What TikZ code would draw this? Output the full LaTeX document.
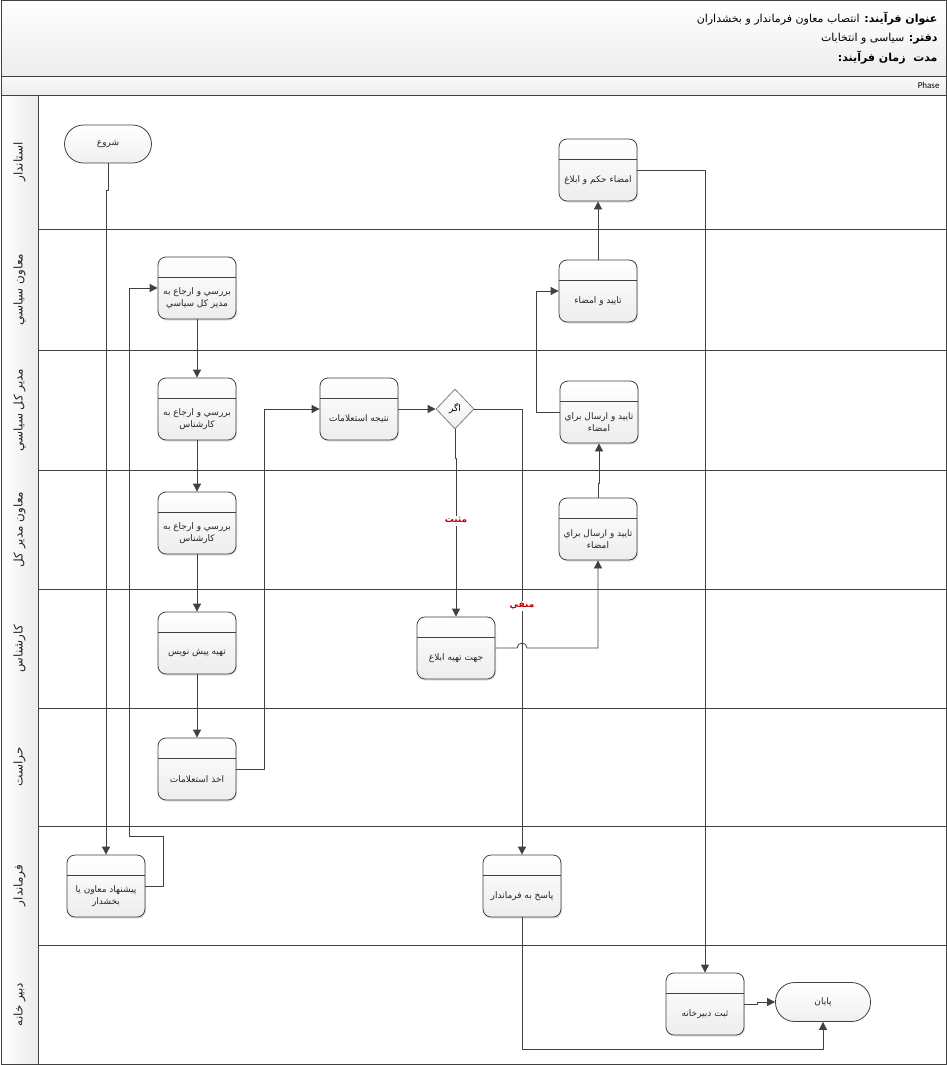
\documentclass[tikz,border=0pt]{standalone}
\usepackage{fontspec}
\setmainfont{Carlito}
\newfontfamily\arabicfont[Script=Arabic]{DejaVu Sans}
\TeXXeTstate=1
\usetikzlibrary{arrows.meta,shapes.geometric,shadows}
\definecolor{linegray}{HTML}{404040}
\definecolor{flagred}{HTML}{C00000}
\begin{document}
\begin{tikzpicture}[x=1pt,y=-1pt,>={Triangle[length=8pt,width=8pt]},line join=round,
	task/.style={draw=linegray,line width=0.8pt,rounded corners=8pt,minimum width=78pt,minimum height=62pt,
		top color=white,bottom color=gray!14,drop shadow={shadow xshift=1pt,shadow yshift=-1.5pt,opacity=0.25},
		path picture={\draw[linegray,line width=0.8pt] ([yshift=-20pt]path picture bounding box.north west) -- ([yshift=-20pt]path picture bounding box.north east);}},
	tasktext/.style={yshift=-10pt,align=center,font=\arabicfont\fontsize{9}{12}\selectfont,text=black!85},
	terminal/.style={draw=linegray,line width=0.8pt,rounded corners=19pt,minimum width=87pt,minimum height=38pt,
		top color=white,bottom color=gray!12,font=\arabicfont\fontsize{9}{11}\selectfont,text=black!85},
	decision/.style={diamond,draw=gray,line width=0.8pt,minimum width=38pt,minimum height=40pt,inner sep=0pt,
		top color=white,bottom color=gray!12,font=\arabicfont\fontsize{9}{11}\selectfont},
	flow/.style={draw=linegray,line width=0.8pt,->},
	flag/.style={fill=white,inner sep=1pt,text=flagred,font=\arabicfont\bfseries\fontsize{9}{11}\selectfont},
	lanename/.style={rotate=90,font=\arabicfont\fontsize{12}{14}\selectfont,text=black!85},
	headline/.style={anchor=east,font=\arabicfont\fontsize{11}{14}\selectfont}]
	\useasboundingbox (0,0) rectangle (947,1065);
	% header
	\shade[top color=white,bottom color=gray!14] (1,1) rectangle (946,76);
	\shade[top color=gray!4,bottom color=gray!14] (1,76) rectangle (946,95);
	\node[headline] (title) at (941,19) {\beginR\textbf{عنوان فرآيند:} انتصاب معاون فرماندار و بخشداران\endR};
	\node[headline] (office) at (941,39) {\beginR\textbf{دفتر:} سياسی و انتخابات\endR};
	\node[headline,font=\arabicfont\bfseries\fontsize{11}{14}\selectfont] (duration) at (941,58) {\beginR مدت\ \ زمان فرآيند:\endR};
	\node[anchor=east,font=\fontsize{9}{11}\selectfont] (phase) at (943,85.5) {Phase};
	% lanes
	\foreach \ytop/\ybot/\ymid/\lname in {95/229/162/استاندار,229/350/289.5/معاون سياسي,350/470/410/مدير كل سياسي,
		470/589/529.5/معاون مدير كل,589/708/648.5/كارشناس,708/826/767/حراست,826/945/885.5/فرماندار,945/1064/1004.5/دبير خانه}{
		\shade[left color=white,right color=gray!16] (1,\ytop) rectangle (38,\ybot);
		\draw[linegray,line width=0.8pt] (1,\ybot) -- (946,\ybot);
		\node[lanename] at (19.5,\ymid) {\beginR\lname\endR};
	}
	\draw[linegray,line width=0.8pt] (38,95) -- (38,1064);
	\draw[linegray,line width=0.8pt] (1,76) -- (946,76) (1,95) -- (946,95);
	\draw[linegray,line width=1pt] (1,1) rectangle (946,1064);
	% steps
	\node[terminal] (start) at (108,144) {\beginR شروع\endR};
	\node[task,label={[tasktext]center:\beginR بررسي و ارجاع به\endR\\\beginR مدير كل سياسي\endR}] (review1) at (197,288) {};
	\node[task,label={[tasktext]center:\beginR بررسي و ارجاع به\endR\\\beginR كارشناس\endR}] (review2) at (197,409) {};
	\node[task,label={[tasktext]center:\beginR بررسي و ارجاع به\endR\\\beginR كارشناس\endR}] (review3) at (197,523) {};
	\node[task,label={[tasktext]center:\beginR تهيه پيش نويس\endR}] (draft) at (197,643) {};
	\node[task,label={[tasktext]center:\beginR اخذ استعلامات\endR}] (inquiry) at (197,769) {};
	\node[task,label={[tasktext]center:\beginR پيشنهاد معاون يا\endR\\\beginR بخشدار\endR}] (propose) at (106,886) {};
	\node[task,label={[tasktext]center:\beginR نتيجه استعلامات\endR}] (result) at (359,409) {};
	\node[decision] (check) at (455,409) {\beginR اگر\endR};
	\node[task,label={[tasktext]center:\beginR جهت تهيه ابلاغ\endR}] (notify) at (456,648) {};
	\node[task,label={[tasktext]center:\beginR امضاء حكم و ابلاغ\endR}] (decree) at (598,170) {};
	\node[task,label={[tasktext]center:\beginR تاييد و امضاء\endR}] (sign) at (598,291) {};
	\node[task,label={[tasktext]center:\beginR تاييد و ارسال براي\endR\\\beginR امضاء\endR}] (approve3) at (599,412) {};
	\node[task,label={[tasktext]center:\beginR تاييد و ارسال براي\endR\\\beginR امضاء\endR}] (approve4) at (598,529) {};
	\node[task,label={[tasktext]center:\beginR پاسخ به فرماندار\endR}] (reply) at (522,886) {};
	\node[task,label={[tasktext]center:\beginR ثبت دبيرخانه\endR}] (registry) at (705,1004) {};
	\node[terminal,minimum width=95pt,minimum height=39pt] (finish) at (823,1002) {\beginR پايان\endR};
	% connectors
	\draw[flow] (start.south) -- ++(0,27) -| (propose.north);
	\coordinate (loopA) at (163,836);
	\coordinate (loopB) at (129,836);
	\draw[flow] (propose.east) -| (loopA) -- (loopB) |- (review1.west);
	\draw[flow] (review1.south) -- (review2.north);
	\draw[flow] (review2.south) -- (review3.north);
	\draw[flow] (review3.south) -- (draft.north);
	\draw[flow] (draft.south) -- (inquiry.north);
	\draw[flow] (inquiry.east) -- ++(28,0) |- (result.west);
	\draw[flow] (result.east) -- (check.west);
	\draw[flow] (check.south) -- ++(0,29) -| (notify.north);
	\draw[flow] (check.east) -| (reply.north);
	\node[flag] (yes) at (456,521) {\beginR مثبت\endR};
	\node[flag] (no) at (522,606) {\beginR منفي\endR};
	\draw[flow] (notify.east) -- (517,648) arc[start angle=180,end angle=0,radius=5pt] -| (approve4.south);
	\draw[flow] (approve4.north) -- ++(0,-14) -| (approve3.south);
	\draw[flow] (approve3.west) -- ++(-23,0) |- (sign.west);
	\draw[flow] (sign.north) -- (decree.south);
	\draw[flow] (decree.east) -| (registry.north);
	\draw[flow] (registry.east) -- ++(13,0) |- (finish.west);
	\draw[flow] (reply.south) -- ++(0,132) -| (finish.south);
\end{tikzpicture}
\end{document}
